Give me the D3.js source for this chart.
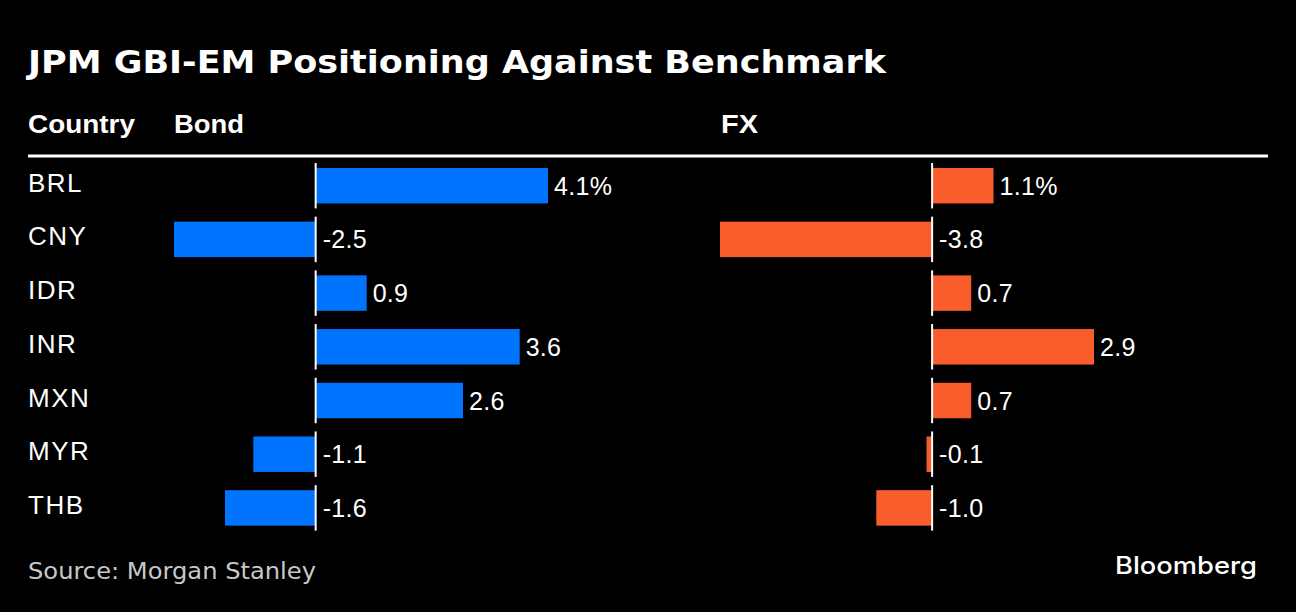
<!DOCTYPE html>
<html>
<head>
<meta charset="utf-8">
<script src="https://cdn.jsdelivr.net/npm/d3@7"></script>
<style>
  html, body { margin: 0; padding: 0; background: #000; }
  svg { display: block; }
</style>
</head>
<body>
<svg id="chart" width="1296" height="612"></svg>
<script>
// ---- data ----
const countries = ["BRL", "CNY", "IDR", "INR", "MXN", "MYR", "THB"];
const bondValues = [4.1, -2.5, 0.9, 3.6, 2.6, -1.1, -1.6];
const fxValues = [1.1, -3.8, 0.7, 2.9, 0.7, -0.1, -1.0];
const columnHeaders = ["Country", "Bond", "FX"];
const titleText = "JPM GBI-EM Positioning Against Benchmark";
const sourceText = "Source: Morgan Stanley";

// ---- drawing ----
const svg = d3.select("#chart");
svg.append("rect").attr("width", 1296).attr("height", 612).attr("fill", "#000");

const labelFont = "'Liberation Sans', Arial, Helvetica, sans-serif";

// title
svg.append("text")
  .attr("x", 28).attr("y", 73)
  .attr("fill", "#fff")
  .style("font-family", "'DejaVu Sans', Verdana, sans-serif")
  .style("font-weight", "bold")
  .style("font-size", "32px")
  .attr("textLength", 858).attr("lengthAdjust", "spacingAndGlyphs")
  .text(titleText);

// headers
const headerX = [28, 174, 721];
const headerW = [107, 70, 37];
svg.selectAll("text.header").data(columnHeaders).join("text")
  .attr("class", "header")
  .attr("x", (d, i) => headerX[i]).attr("y", 133)
  .attr("fill", "#fff")
  .style("font-family", labelFont)
  .style("font-weight", "bold")
  .style("font-size", "25px")
  .attr("textLength", (d, i) => headerW[i])
  .attr("lengthAdjust", "spacingAndGlyphs")
  .text(d => d);

// header rule
svg.append("rect")
  .attr("x", 28).attr("y", 154.5).attr("width", 1240).attr("height", 3)
  .attr("fill", "#fff");

// row scale
const y = d3.scaleBand().domain(countries).range([149.7, 543.9]).padding(0.34);

// country labels
svg.selectAll("text.country").data(countries).join("text")
  .attr("class", "country")
  .attr("x", 28)
  .attr("y", d => y(d) + y.bandwidth() / 2 + 6)
  .attr("fill", "#fff")
  .style("font-family", labelFont)
  .style("font-size", "26px")
  .style("letter-spacing", "1.5px")
  .text(d => d);

const fmt = v => (v < 0 ? "-" : "") + Math.abs(v).toFixed(1);

function panel(values, range, color) {
  const x = d3.scaleLinear().domain(d3.extent(values)).range(range);
  const g = svg.append("g");
  const data = countries.map((c, i) => ({ c, v: values[i], i }));
  g.selectAll("rect.bar").data(data).join("rect")
    .attr("class", "bar")
    .attr("x", d => Math.min(x(0), x(d.v)))
    .attr("y", d => y(d.c))
    .attr("width", d => Math.abs(x(d.v) - x(0)))
    .attr("height", y.bandwidth())
    .attr("fill", color);
  g.selectAll("line.zero").data(data).join("line")
    .attr("class", "zero")
    .attr("x1", x(0)).attr("x2", x(0))
    .attr("y1", d => y(d.c) - 5)
    .attr("y2", d => y(d.c) + y.bandwidth() + 5)
    .attr("stroke", "#fff").attr("stroke-width", 2);
  g.selectAll("text.val").data(data).join("text")
    .attr("class", "val")
    .attr("x", d => d.v >= 0 ? x(d.v) + 6 : x(0) + 7)
    .attr("y", d => y(d.c) + y.bandwidth() / 2 + 9)
    .attr("fill", "#fff")
    .style("font-family", labelFont)
    .style("font-size", "25px")
    .style("letter-spacing", "0.3px")
    .text(d => fmt(d.v) + (d.i === 0 ? "%" : ""));
}

panel(bondValues, [174, 548], "#0174FF");
panel(fxValues, [720, 1094], "#FA5D2C");

// source
svg.append("text")
  .attr("x", 28).attr("y", 579)
  .attr("fill", "#c8c8c8")
  .style("font-family", "'DejaVu Sans', sans-serif")
  .style("font-size", "23px")
  .attr("textLength", 288).attr("lengthAdjust", "spacingAndGlyphs")
  .text(sourceText);

// Bloomberg
svg.append("text")
  .attr("x", 1115).attr("y", 574)
  .attr("fill", "#fff")
  .style("font-family", "Inter, 'Open Sans', sans-serif")
  .style("font-weight", "500")
  .style("font-size", "24px")
  .attr("textLength", 142).attr("lengthAdjust", "spacingAndGlyphs")
  .text("Bloomberg");
</script>
</body>
</html>
